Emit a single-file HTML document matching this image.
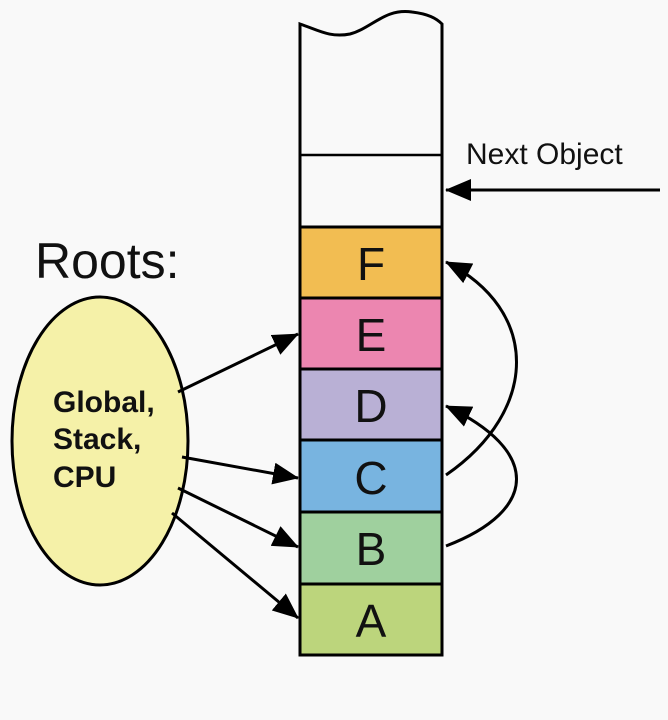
<!DOCTYPE html>
<html><head><style>
html,body{margin:0;padding:0;background:#f9f9f9;}
svg{display:block}
text{font-family:"Liberation Sans",sans-serif;fill:#111}
</style></head><body>
<svg width="668" height="720" viewBox="0 0 668 720">
<defs>
<marker id="ah2" markerWidth="26" markerHeight="22" refX="25" refY="11" orient="auto" markerUnits="userSpaceOnUse" viewBox="0 0 26 22">
<path d="M0,0 L26,11 L0,22 z" fill="#000"/>
</marker>
</defs>
<rect width="668" height="720" fill="#f9f9f9"/>
<path d="M300,24 C318,30 330,38 350,34 C372,28 385,8 412,12 C428,14 436,18 442,24 L442,655 L300,655 Z" fill="#f9f9f9" stroke="#000" stroke-width="3"/>
<line x1="300" y1="155" x2="442" y2="155" stroke="#000" stroke-width="2.5"/>
<rect x="300" y="227" width="142" height="71" fill="#f2bd52" stroke="#000" stroke-width="3"/>
<rect x="300" y="298" width="142" height="71" fill="#ec86b0" stroke="#000" stroke-width="3"/>
<rect x="300" y="369" width="142" height="71" fill="#b9b0d5" stroke="#000" stroke-width="3"/>
<rect x="300" y="440" width="142" height="72" fill="#78b4e0" stroke="#000" stroke-width="3"/>
<rect x="300" y="512" width="142" height="72" fill="#9fd09e" stroke="#000" stroke-width="3"/>
<rect x="300" y="584" width="142" height="71" fill="#bcd57c" stroke="#000" stroke-width="3"/>
<g font-size="46" text-anchor="middle">
<text x="371" y="280">F</text>
<text x="371" y="351">E</text>
<text x="371" y="422">D</text>
<text x="371" y="494">C</text>
<text x="371" y="565">B</text>
<text x="371" y="637">A</text>
</g>
<text x="466" y="164" font-size="30">Next Object</text>
<line x1="660" y1="190" x2="446" y2="190" stroke="#000" stroke-width="3" marker-end="url(#ah2)"/>
<text x="35" y="278" font-size="50">Roots:</text>
<ellipse cx="100" cy="441" rx="88" ry="144" fill="#f5f1a8" stroke="#000" stroke-width="3"/>
<g font-size="30" font-weight="bold">
<text x="53" y="412">Global,</text>
<text x="53" y="449">Stack,</text>
<text x="53" y="487">CPU</text>
</g>
<g stroke="#000" stroke-width="3" fill="none">
<line x1="178" y1="392" x2="298" y2="334" marker-end="url(#ah2)"/>
<line x1="182" y1="457" x2="298" y2="478" marker-end="url(#ah2)"/>
<line x1="178" y1="488" x2="298" y2="547" marker-end="url(#ah2)"/>
<line x1="172" y1="513" x2="298" y2="618" marker-end="url(#ah2)"/>
<path d="M446,475 C540,410 540,310 446,262" marker-end="url(#ah2)"/>
<path d="M446,546 C540,510 540,450 446,406" marker-end="url(#ah2)"/>
</g>
</svg>
</body></html>
